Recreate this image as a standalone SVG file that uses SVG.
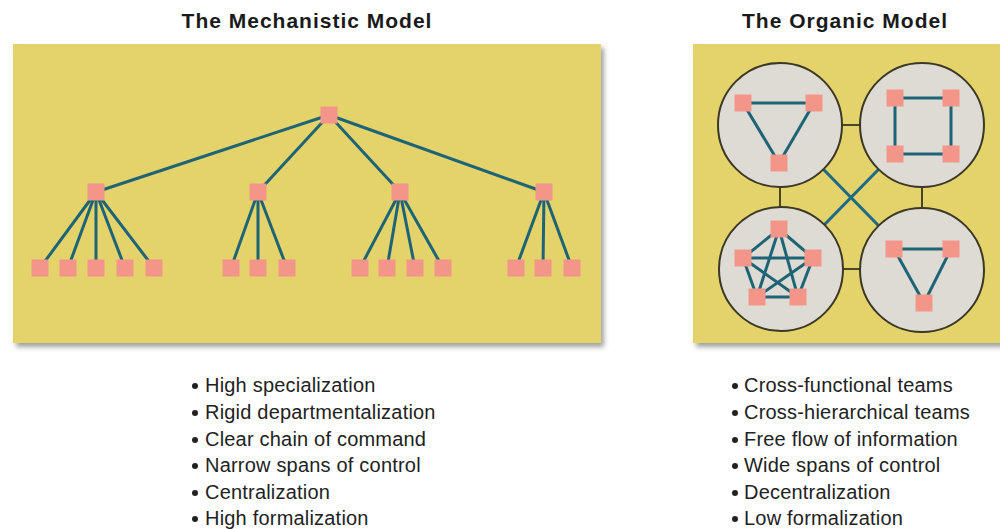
<svg xmlns="http://www.w3.org/2000/svg" width="1000" height="529" viewBox="0 0 1000 529">
<defs>
<filter id="sh" x="-5%" y="-5%" width="115%" height="120%">
<feDropShadow dx="3" dy="4" stdDeviation="2.5" flood-color="#555" flood-opacity="0.55"/>
</filter>
<style>
.title{font-family:"Liberation Sans",Arial,sans-serif;font-weight:bold;font-size:21px;letter-spacing:1px;fill:#1a1a1a;text-anchor:middle}
.item{font-family:"Liberation Sans",Arial,sans-serif;font-size:20px;letter-spacing:0.2px;fill:#222}
.panel{fill:#E4D36B}
.n{fill:#F4958A}
.e{stroke:#1E6477;stroke-width:3;fill:none}
.c{fill:#DEDAD4;stroke:#3B3826;stroke-width:2}
.k{stroke:#4A4428;stroke-width:2;fill:none}
.x{stroke:#1E6A86;stroke-width:3;fill:none}
.b{fill:#222}
</style>
</defs>
<rect width="1000" height="529" fill="#fff"/>
<text class="title" x="307" y="28">The Mechanistic Model</text>
<text class="title" x="845" y="28">The Organic Model</text>
<rect class="panel" x="13" y="44" width="588" height="299" filter="url(#sh)"/>
<rect class="panel" x="693" y="44" width="320" height="299" filter="url(#sh)"/>

<g id="mech-connectors">
<path class="e" d="M329,115L96,192M329,115L258,192M329,115L400,192M329,115L544,192"/>
<path class="e" d="M96,192L40,268M96,192L68,268M96,192L96,268M96,192L125,268M96,192L154,268"/>
<path class="e" d="M258,192L231,268M258,192L258,268M258,192L287,268"/>
<path class="e" d="M400,192L360,268M400,192L387,268M400,192L415,268M400,192L443,268"/>
<path class="e" d="M544,192L516,268M544,192L543,268M544,192L572,268"/>
</g>
<g id="mech-top"><rect class="n" x="320.5" y="106.5" width="17" height="17"/></g>
<g id="mech-mid">
<rect class="n" x="87.5" y="183.5" width="17" height="17"/>
<rect class="n" x="249.5" y="183.5" width="17" height="17"/>
<rect class="n" x="391.5" y="183.5" width="17" height="17"/>
<rect class="n" x="535.5" y="183.5" width="17" height="17"/>
</g>
<g id="mech-leaves">
<rect class="n" x="31.5" y="259.5" width="17" height="17"/>
<rect class="n" x="59.5" y="259.5" width="17" height="17"/>
<rect class="n" x="87.5" y="259.5" width="17" height="17"/>
<rect class="n" x="116.5" y="259.5" width="17" height="17"/>
<rect class="n" x="145.5" y="259.5" width="17" height="17"/>
<rect class="n" x="222.5" y="259.5" width="17" height="17"/>
<rect class="n" x="249.5" y="259.5" width="17" height="17"/>
<rect class="n" x="278.5" y="259.5" width="17" height="17"/>
<rect class="n" x="351.5" y="259.5" width="17" height="17"/>
<rect class="n" x="378.5" y="259.5" width="17" height="17"/>
<rect class="n" x="406.5" y="259.5" width="17" height="17"/>
<rect class="n" x="434.5" y="259.5" width="17" height="17"/>
<rect class="n" x="507.5" y="259.5" width="17" height="17"/>
<rect class="n" x="534.5" y="259.5" width="17" height="17"/>
<rect class="n" x="563.5" y="259.5" width="17" height="17"/>
</g>

<g id="org-connectors">
<path class="k" d="M780,125H922M780,125V269M922,125V270M780,269H922"/>
<path class="x" d="M780,125L922,270M922,125L781,269"/>
</g>
<g id="team-triangle-top">
<circle class="c" cx="780" cy="125" r="62"/>
<path class="e" d="M743,103H814L779,163Z"/>
<rect class="n" x="734.5" y="94.5" width="17" height="17"/>
<rect class="n" x="805.5" y="94.5" width="17" height="17"/>
<rect class="n" x="770.5" y="154.5" width="17" height="17"/>
</g>
<g id="team-square">
<circle class="c" cx="922" cy="125" r="62"/>
<path class="e" d="M895,98H951V154H895Z"/>
<rect class="n" x="886.5" y="89.5" width="17" height="17"/>
<rect class="n" x="942.5" y="89.5" width="17" height="17"/>
<rect class="n" x="886.5" y="145.5" width="17" height="17"/>
<rect class="n" x="942.5" y="145.5" width="17" height="17"/>
</g>
<g id="team-pentagon">
<circle class="c" cx="781" cy="269" r="62"/>
<path class="e" d="M779,229L743,258L757,297L798,297L813,258Z M779,229L757,297L813,258L743,258L798,297Z"/>
<rect class="n" x="770.5" y="220.5" width="17" height="17"/>
<rect class="n" x="734.5" y="249.5" width="17" height="17"/>
<rect class="n" x="804.5" y="249.5" width="17" height="17"/>
<rect class="n" x="748.5" y="288.5" width="17" height="17"/>
<rect class="n" x="789.5" y="288.5" width="17" height="17"/>
</g>
<g id="team-triangle-bottom">
<circle class="c" cx="922" cy="270" r="62"/>
<path class="e" d="M894,249H951L924,303Z"/>
<rect class="n" x="885.5" y="240.5" width="17" height="17"/>
<rect class="n" x="942.5" y="240.5" width="17" height="17"/>
<rect class="n" x="915.5" y="294.5" width="17" height="17"/>
</g>

<g id="mech-list">
<circle class="b" cx="195" cy="386" r="3"/><text class="item" x="205" y="392">High specialization</text>
<circle class="b" cx="195" cy="413" r="3"/><text class="item" x="205" y="419">Rigid departmentalization</text>
<circle class="b" cx="195" cy="440" r="3"/><text class="item" x="205" y="446">Clear chain of command</text>
<circle class="b" cx="195" cy="466" r="3"/><text class="item" x="205" y="472">Narrow spans of control</text>
<circle class="b" cx="195" cy="493" r="3"/><text class="item" x="205" y="499">Centralization</text>
<circle class="b" cx="195" cy="519" r="3"/><text class="item" x="205" y="525">High formalization</text>
</g>
<g id="org-list">
<circle class="b" cx="735" cy="386" r="3"/><text class="item" x="744" y="392">Cross-functional teams</text>
<circle class="b" cx="735" cy="413" r="3"/><text class="item" x="744" y="419">Cross-hierarchical teams</text>
<circle class="b" cx="735" cy="440" r="3"/><text class="item" x="744" y="446">Free flow of information</text>
<circle class="b" cx="735" cy="466" r="3"/><text class="item" x="744" y="472">Wide spans of control</text>
<circle class="b" cx="735" cy="493" r="3"/><text class="item" x="744" y="499">Decentralization</text>
<circle class="b" cx="735" cy="519" r="3"/><text class="item" x="744" y="525">Low formalization</text>
</g>
</svg>
